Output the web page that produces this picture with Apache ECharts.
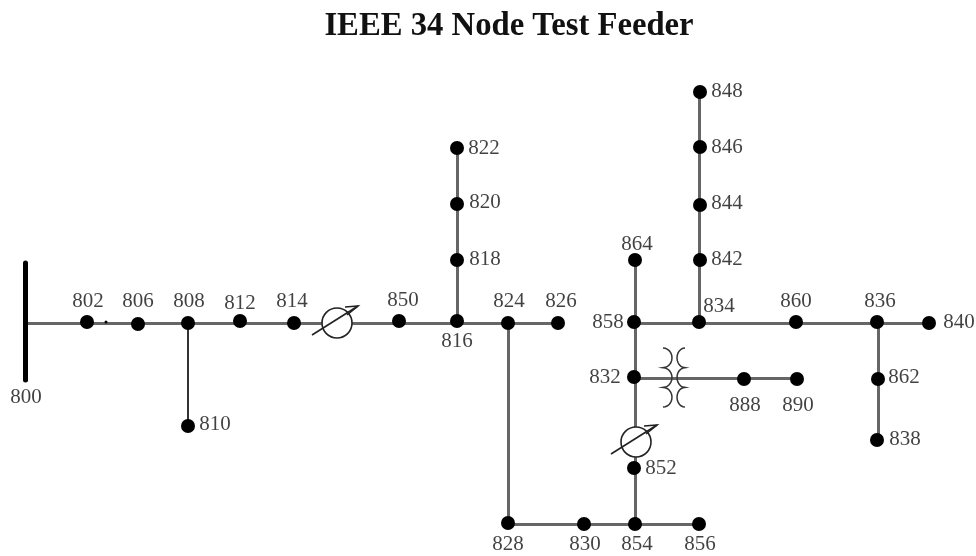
<!DOCTYPE html>
<html>
<head>
<meta charset="utf-8">
<title>IEEE 34 Node Test Feeder</title>
<script src="https://cdn.jsdelivr.net/npm/echarts@6/dist/echarts.min.js"></script>
<style>
html, body { margin: 0; padding: 0; background: #fff; }
#chart { width: 976px; height: 556px; }
</style>
</head>
<body>
<div id="chart"></div>
<script>
// node names and where each sits on the drawing
var nodeNames = ["802","806","808","810","812","814","850","816","818","820","822","824","826","828","830","854","856","852","832","858","864","834","842","844","846","848","860","836","840","862","838","888","890"];
var nodeX = [87,138,188,188,240,294,399,457,457,457,457,508,558,508,584,635,699,634,634,634,635,699,700,700,700,700,796,877,929,878,877,744,797];
var nodeY = [322,324,323,426,321,323,321,321,260,204,148,323,323,523,524,524,524,468,377,322,260,322,260,205,147,92,322,322,323,379,440,379,379];

// label centres, same order as nodeNames, then 800 last
var labelNames = nodeNames.concat(["800"]);
var labelX = [87,137,188,214,239,291,402,456,484,484,483,508,560,507,584,636,699,660,604,607,636,718,726,726,726,726,795,879,958,903,904,744,797,25];
var labelY = [300,300,300,423,302,300,299,340,258,201,147,300,300,543,543,543,543,467,376,321,243,305,258,202,146,90,300,300,321,376,438,404,404,396];

// straight wire runs, each from one end to the other
var wireRuns = [
  [[25,323],[558,323]],
  [[457,323],[457,148]],
  [[508,323],[508,523]],
  [[508,524],[699,524]],
  [[635,260],[635,524]],
  [[635,323],[929,323]],
  [[699,323],[699,92]],
  [[878,323],[878,440]],
  [[634,378],[797,378]]
];
var thinRuns = [
  [[188,323],[188,426]]
];
var bus800 = [[25,263],[25,380]];
var regulators = [[337,323],[636,442]];
var transformer = [[673,377]];
var strayDot = [[106,322]];

var lineColor = "#666";

var edgeData = [];
wireRuns.forEach(function (r) {
  edgeData.push({ coords: r, lineStyle: { color: lineColor, width: 3, opacity: 1 } });
});
thinRuns.forEach(function (r) {
  edgeData.push({ coords: r, lineStyle: { color: "#333", width: 2, opacity: 1 } });
});
edgeData.push({
  coords: bus800,
  lineStyle: { color: "#000", width: 5, cap: "round", opacity: 1 }
});

function renderRegulator(params, api) {
  var c = api.coord([api.value(0), api.value(1)]);
  var x = c[0], y = c[1];
  var style = { stroke: "#222", lineWidth: 1.6, fill: null };
  return {
    type: "group",
    children: [
      { type: "circle", shape: { cx: x, cy: y, r: 15 }, style: { stroke: "#222", lineWidth: 1.6, fill: "#fff" } },
      { type: "line", shape: { x1: x - 25, y1: y + 12, x2: x + 21, y2: y - 17 }, style: style },
      { type: "polyline", shape: { points: [[x + 8, y - 16], [x + 21, y - 17], [x + 10, y - 8]] }, style: style }
    ]
  };
}

// three half-ellipse bumps per winding, bulging towards the core
function coilPoints(x, top, dir, bulge) {
  var h = 19.7, pts = [];
  for (var i = 0; i < 3; i++) {
    for (var t = 0; t <= 12; t++) {
      var a = Math.PI * t / 12;
      pts.push([x + dir * bulge * Math.sin(a), top + h * i + h * (1 - Math.cos(a)) / 2]);
    }
  }
  return pts;
}

function renderTransformer(params, api) {
  var c = api.coord([api.value(0), api.value(1)]);
  var style = { stroke: "#333", lineWidth: 1.5, fill: null };
  return {
    type: "group",
    children: [
      { type: "polyline", shape: { points: coilPoints(c[0] - 10, c[1] - 29, 1, 9) }, style: style },
      { type: "polyline", shape: { points: coilPoints(c[0] + 12, c[1] - 29, -1, 8) }, style: style }
    ]
  };
}

var chart = echarts.init(document.getElementById("chart"));
chart.setOption({
  animation: false,
  backgroundColor: "#fff",
  title: {
    text: "IEEE 34 Node Test Feeder",
    left: 504,
    top: 5,
    textAlign: "center",
    textStyle: { fontFamily: "Liberation Serif", fontWeight: "bold", fontSize: 32.7, color: "#111" }
  },
  grid: { left: 0, right: 0, top: 0, bottom: 0 },
  xAxis: { type: "value", min: 0, max: 976, show: false },
  yAxis: { type: "value", min: 0, max: 556, inverse: true, show: false },
  series: [
    {
      type: "lines",
      coordinateSystem: "cartesian2d",
      polyline: false,
      silent: true,
      z: 2,
      data: edgeData
    },
    {
      type: "custom",
      coordinateSystem: "cartesian2d",
      renderItem: renderRegulator,
      silent: true,
      z: 3,
      data: regulators
    },
    {
      type: "custom",
      coordinateSystem: "cartesian2d",
      renderItem: renderTransformer,
      silent: true,
      z: 3,
      data: transformer
    },
    {
      type: "scatter",
      symbolSize: 14,
      itemStyle: { color: "#000", opacity: 1 },
      silent: true,
      z: 4,
      data: nodeX.map(function (x, i) { return [x, nodeY[i]]; })
    },
    {
      type: "scatter",
      symbolSize: 3,
      itemStyle: { color: "#000", opacity: 1 },
      silent: true,
      z: 4,
      data: strayDot
    },
    {
      type: "scatter",
      symbolSize: 0,
      silent: true,
      z: 5,
      label: {
        show: true,
        position: "inside",
        offset: [1, 1],
        formatter: function (p) { return labelNames[p.dataIndex]; },
        fontFamily: "Liberation Serif",
        fontSize: 21,
        color: "#111"
      },
      data: labelX.map(function (x, i) { return [x, labelY[i]]; })
    }
  ]
});
</script>
</body>
</html>
